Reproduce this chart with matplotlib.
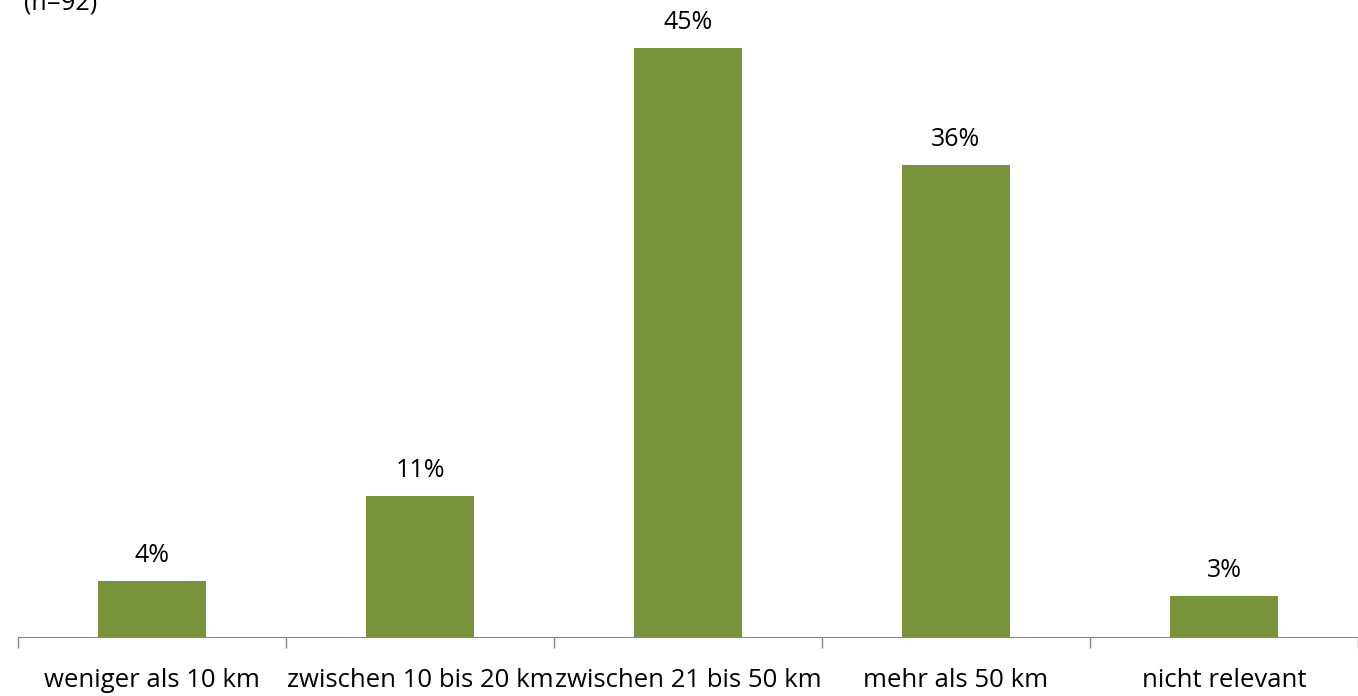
import matplotlib.pyplot as plt
import numpy as np

plt.rcParams['font.family'] = ['Open Sans', 'DejaVu Sans']

categories = ["weniger als 10 km", "zwischen 10 bis 20 km", "zwischen 21 bis 50 km",
              "mehr als 50 km", "nicht relevant"]
values = [4.3, 10.8, 45.0, 36.1, 3.1]
labels = ["4%", "11%", "45%", "36%", "3%"]

fig = plt.figure(figsize=(13.58, 6.96), dpi=100)
ax = fig.add_axes([18 / 1358, 59 / 696, 1340 / 1358, 628 / 696])

x = np.arange(len(categories))
bars = ax.bar(x, values, width=0.4, color="#77933C")
for b, lab in zip(bars, labels):
    ax.text(b.get_x() + b.get_width() / 2, b.get_height() + 1.0, lab,
            ha="center", va="bottom", fontsize=18)

ax.set_xlim(-0.5, len(categories) - 0.5)
ax.set_ylim(0, 48)
ax.set_xticks(x)
ax.set_xticklabels(categories, fontsize=18.5)
ax.tick_params(axis="x", which="major", length=0, pad=22)
ax.set_xticks(np.arange(-0.5, len(categories)), minor=True)
ax.tick_params(axis="x", which="minor", length=8, color="#868686", width=1)
ax.set_yticks([])
for s in ["top", "right", "left"]:
    ax.spines[s].set_visible(False)
ax.spines["bottom"].set_color("#868686")

fig.text(24 / 1358, 1 - 9 / 696, "(n=92)", fontsize=18, va="baseline")

fig.savefig("out.png", dpi=100)
